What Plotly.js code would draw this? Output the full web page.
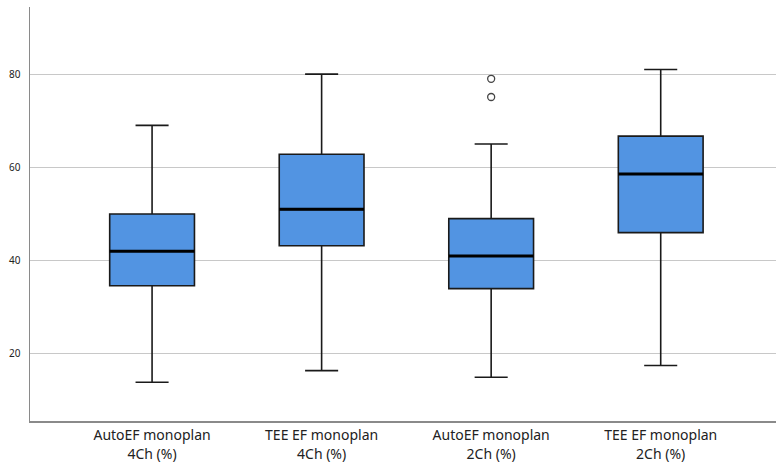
<!DOCTYPE html>
<html>
<head>
<meta charset="utf-8">
<script src="https://cdn.plot.ly/plotly-3.0.1.min.js"></script>
<style>html,body{margin:0;padding:0;background:#fff;}#chart{width:776px;height:463px;}</style>
</head>
<body>
<div id="chart"></div>
<script>
const categories = ["AutoEF monoplan<br>4Ch (%)", "TEE EF monoplan<br>4Ch (%)", "AutoEF monoplan<br>2Ch (%)", "TEE EF monoplan<br>2Ch (%)"];
const lowerWhisker = [13.9, 16.4, 15.0, 17.5];
const q1Values = [34.6, 43.2, 34.0, 46.0];
const medianValues = [42.0, 51.0, 41.0, 58.6];
const q3Values = [50.0, 62.8, 49.0, 66.7];
const upperWhisker = [69.0, 80.0, 65.0, 81.0];
const outlierCategory = [2, 2];
const outlierValues = [79.0, 75.1];
const yTicks = [20, 40, 60, 80];

const xs = categories.map((c, i) => i);
const boxHalf = 0.25;

const traces = [{
  type: 'box',
  x: xs,
  q1: q1Values,
  median: medianValues,
  q3: q3Values,
  lowerfence: lowerWhisker,
  upperfence: upperWhisker,
  width: 0.5,
  whiskerwidth: 0.39,
  fillcolor: '#5294e2',
  line: {color: '#1a1a1a', width: 1.6},
  boxpoints: false,
  hoverinfo: 'skip',
  showlegend: false
}];

// thicker median lines
const mx = [], my = [];
medianValues.forEach((m, i) => { mx.push(i - boxHalf, i + boxHalf, null); my.push(m, m, null); });
traces.push({type: 'scatter', mode: 'lines', x: mx, y: my, line: {color: '#000', width: 3}, hoverinfo: 'skip', showlegend: false});

traces.push({
  type: 'scatter', mode: 'markers',
  x: outlierCategory, y: outlierValues,
  marker: {symbol: 'circle-open', size: 7, color: '#444', line: {width: 1.3, color: '#444'}},
  hoverinfo: 'skip', showlegend: false
});

const layout = {
  width: 776, height: 463,
  margin: {l: 30, r: 0, t: 7, b: 42, pad: 0},
  paper_bgcolor: '#fff', plot_bgcolor: '#fff',
  font: {family: 'Noto Sans, DejaVu Sans, sans-serif', color: '#222'},
  xaxis: {
    range: [-0.72, 3.68],
    tickmode: 'array', tickvals: xs, ticktext: categories,
    showgrid: false, zeroline: false,
    showline: true, linecolor: '#8a8a8a', linewidth: 1.5,
    ticks: '', tickfont: {size: 14, color: '#222'},
    ticklabelstandoff: 1
  },
  yaxis: {
    range: [5.6, 94.4],
    tickmode: 'array', tickvals: yTicks,
    showgrid: true, gridcolor: '#c8c8c8', gridwidth: 1,
    zeroline: false,
    showline: true, linecolor: '#8a8a8a', linewidth: 1.5,
    ticks: '', tickfont: {size: 10, color: '#222'},
    ticklabelstandoff: 6
  }
};

Plotly.newPlot('chart', traces, layout, {staticPlot: true, displayModeBar: false});
</script>
</body>
</html>
